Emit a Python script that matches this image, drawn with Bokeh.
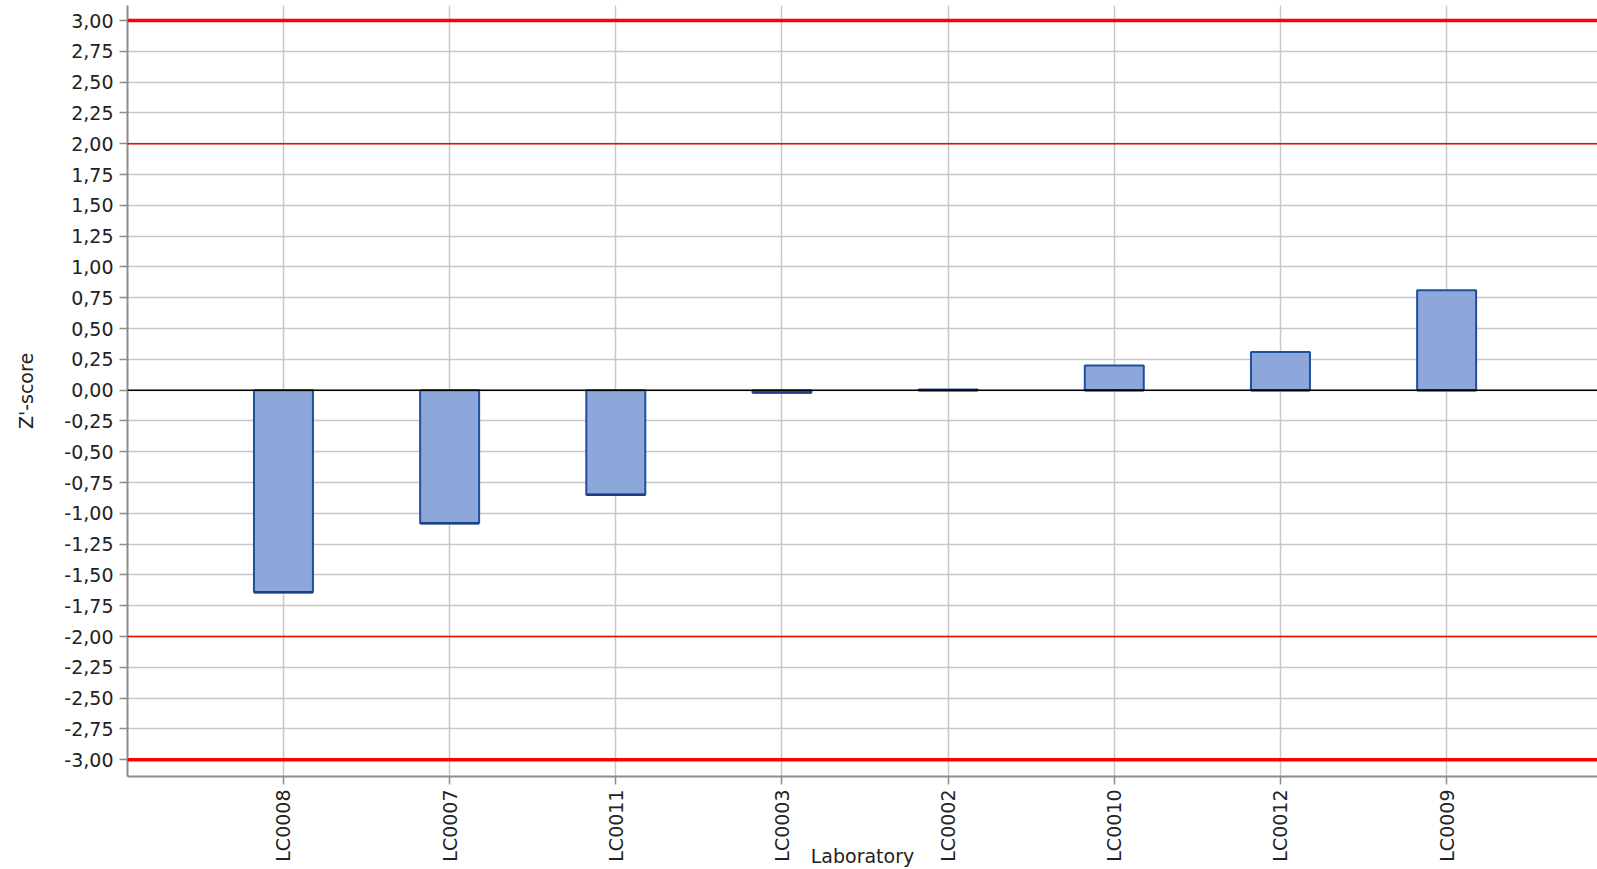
from bokeh.plotting import figure
from bokeh.models import FixedTicker, Span, ColumnDataSource
from bokeh.embed import file_html
from bokeh.resources import INLINE
import math

labs = ["LC0008", "LC0007", "LC0011", "LC0003", "LC0002", "LC0010", "LC0012", "LC0009"]
zscores = [-1.64, -1.08, -0.85, -0.02, 0.005, 0.20, 0.31, 0.81]
yticks = [round(-3 + 0.25 * i, 2) for i in range(25)]
limits_outer = [3.0, -3.0]
limits_inner = [2.0, -2.0]

FONT = "DejaVu Sans"
FS = "19px"
xs = list(range(len(labs)))
bw = 0.355

p = figure(width=1597, height=869, output_backend="svg", toolbar_location=None,
           x_range=(-0.9386, 7.908), y_range=(-3.136, 3.122),
           min_border_left=127, min_border_right=0, min_border_top=5, min_border_bottom=93)
p.background_fill_color = "white"
p.border_fill_color = "white"
p.outline_line_color = None

# grids
p.xgrid.ticker = FixedTicker(ticks=xs)
p.ygrid.ticker = FixedTicker(ticks=yticks)
for g in (p.xgrid, p.ygrid):
    g.grid_line_color = "#C8C8C8"
    g.grid_line_width = 1.5

# limit lines
for v in limits_outer:
    p.add_layout(Span(location=v, dimension="width", line_color="#FF0000", line_width=3.5))
for v in limits_inner:
    p.add_layout(Span(location=v, dimension="width", line_color="#FF0000", line_width=1.5))
p.add_layout(Span(location=0, dimension="width", line_color="#000000", line_width=1.5))

src = ColumnDataSource(dict(x=xs, top=zscores, bottom=[0] * len(xs),
                            base=[min(0, z) for z in zscores],
                            x0=[x - bw / 2 for x in xs], x1=[x + bw / 2 for x in xs]))
p.vbar(x="x", top="top", bottom="bottom", width=bw, source=src,
       fill_color="#8DA7DB", line_color="#1F4FA0", line_width=2)
p.segment(x0="x0", x1="x1", y0="base", y1="base", source=src,
          line_color="#1A3F85", line_width=2.5)

# axes
p.xaxis.ticker = FixedTicker(ticks=xs)
p.xaxis.major_label_overrides = {i: l for i, l in enumerate(labs)}
p.xaxis.major_label_orientation = math.pi / 2
p.yaxis.ticker = FixedTicker(ticks=yticks)
p.yaxis.major_label_overrides = {t: f"{t:.2f}".replace(".", ",") for t in yticks}

for ax in (p.xaxis[0], p.yaxis[0]):
    ax.axis_line_color = "#8C8C8C"
    ax.axis_line_width = 2
    ax.major_tick_line_color = "#8C8C8C"
    ax.major_tick_line_width = 1.5
    ax.major_tick_out = 8
    ax.major_tick_in = 0
    ax.minor_tick_line_color = None
    ax.major_label_text_font = FONT
    ax.major_label_text_font_size = FS
    ax.major_label_text_color = "#222222"
    ax.axis_label_text_font = FONT
    ax.axis_label_text_font_size = FS
    ax.axis_label_text_font_style = "normal"
    ax.axis_label_text_color = "#222222"
p.yaxis.major_label_standoff = 6
p.xaxis.major_label_standoff = 5

p.yaxis.axis_label = "Z'-score"
p.yaxis.axis_label_standoff = 24

p.xaxis.axis_label = "Laboratory"
p.xaxis.axis_label_standoff = -20

open("out.html", "w").write(file_html(p, INLINE))
